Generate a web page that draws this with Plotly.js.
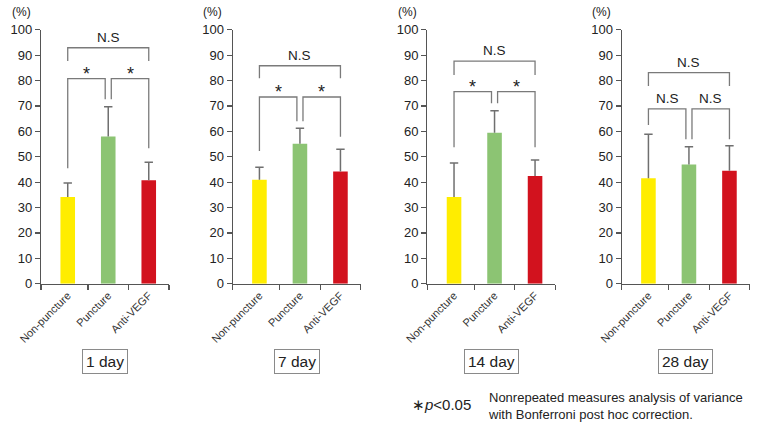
<!DOCTYPE html>
<html>
<head>
<meta charset="utf-8">
<script src="https://cdn.plot.ly/plotly-3.0.1.min.js"></script>
<style>html,body{margin:0;padding:0;background:#fff;}#chart{width:758px;height:429px;}</style>
</head>
<body>
<div id="chart"></div>
<script>
// ---- data ----
const days = ['1 day', '7 day', '14 day', '28 day'];
const categories = ['Non-puncture', 'Puncture', 'Anti-VEGF'];
const barColors = ['#FFED00', '#8CC473', '#D2121E'];

const mean1 = [34.1, 58.0, 40.7];
const sd1 = [5.5, 11.7, 7.1];
const mean7 = [40.9, 55.1, 44.2];
const sd7 = [4.9, 6.1, 8.7];
const mean14 = [34.1, 59.4, 42.4];
const sd14 = [13.4, 8.7, 6.3];
const mean28 = [41.5, 46.9, 44.5];
const sd28 = [17.3, 7.0, 9.8];

// significance brackets (heights in %)
const topLevel = [92.9, 85.8, 87.6, 83.1];
const topLegs = [87.7, 80.9, 82.2, 77.8];
const topLabel = ['N.S', 'N.S', 'N.S', 'N.S'];
const pairLevel = [80.7, 73.5, 75.6, 68.8];
const pairLegs1 = [45.5, 72.6, 72.6, 53.3];
const pairLegs7 = [52.2, 64.0, 64.0, 57.9];
const pairLegs14 = [53.7, 71.0, 71.0, 53.7];
const pairLegs28 = [62.5, 56.9, 56.9, 56.9];
const pairLabels1 = ['*', '*'];
const pairLabels7 = ['*', '*'];
const pairLabels14 = ['*', '*'];
const pairLabels28 = ['N.S', 'N.S'];

const yTicks = [0, 10, 20, 30, 40, 50, 60, 70, 80, 90, 100];

// ---- layout helpers ----
const means = [mean1, mean7, mean14, mean28];
const sds = [sd1, sd7, sd14, sd28];
const pairLegs = [pairLegs1, pairLegs7, pairLegs14, pairLegs28];
const pairLabels = [pairLabels1, pairLabels7, pairLabels14, pairLabels28];

const W = 758, H = 429;
const panelLeft = [41, 232.7, 427.3, 621.7];
const panelWidth = 128;
const yBottom = 283.7, yTop = 29.7;
const xRange = [-0.66, 2.5];
const axisColor = '#555';
const bracketColor = '#7a7a7a';
const errColor = '#6f6f6f';
const FONT = 'Liberation Sans, Arial, Helvetica, sans-serif';
const gap = 0.075;

const traces = [];
const shapes = [];
const annotations = [];
const layout = {
  width: W, height: H,
  margin: {l: 0, r: 0, t: 0, b: 0},
  paper_bgcolor: '#fff', plot_bgcolor: '#fff',
  showlegend: false,
  font: {family: FONT, color: '#222', size: 13},
  shapes: shapes, annotations: annotations
};

for (let i = 0; i < 4; i++) {
  const sfx = i === 0 ? '' : String(i + 1);
  const xa = 'x' + sfx, ya = 'y' + sfx;
  traces.push({
    type: 'bar', x: [0, 1, 2], y: means[i], xaxis: xa, yaxis: ya,
    width: 0.36,
    marker: {color: barColors, line: {width: 0}},
    error_y: {type: 'data', symmetric: false, array: sds[i], arrayminus: [0, 0, 0],
              color: errColor, thickness: 1.5, width: 0},
    hoverinfo: 'none'
  });
  // caps at the top of the (upper-only) error bars
  traces.push({
    type: 'scatter', mode: 'markers', xaxis: xa, yaxis: ya,
    x: [0, 1, 2], y: means[i].map((m, k) => m + sds[i][k]),
    marker: {symbol: 'line-ew', size: 6, line: {color: errColor, width: 1.5}},
    hoverinfo: 'none'
  });
  layout['xaxis' + sfx] = {
    domain: [panelLeft[i] / W, (panelLeft[i] + panelWidth) / W],
    range: xRange, anchor: ya, fixedrange: true,
    showline: true, linecolor: axisColor, linewidth: 1.2,
    showgrid: false, zeroline: false,
    tickmode: 'array', tickvals: [0, 1, 2], ticktext: categories,
    ticks: '', tickangle: -45,
    tickfont: {size: 11, color: '#333', family: FONT},
    minor: {tickmode: 'array', tickvals: [xRange[0], 0.5, 1.5, 2.5], ticks: 'outside',
            ticklen: 5, tickcolor: axisColor, tickwidth: 1.2, showgrid: false}
  };
  layout['yaxis' + sfx] = {
    domain: [(H - yBottom) / H, (H - yTop) / H],
    range: [0, 100], anchor: xa, fixedrange: true,
    showline: true, linecolor: axisColor, linewidth: 1.2,
    showgrid: false, zeroline: false,
    tickmode: 'array', tickvals: yTicks,
    ticks: 'outside', ticklen: 5, tickcolor: axisColor, tickwidth: 1.2,
    tickfont: {size: 13, color: '#222', family: FONT}
  };

  // brackets
  const line = {color: bracketColor, width: 1.3};
  shapes.push({type: 'path', xref: xa, yref: ya, line: line,
    path: `M 0,${topLegs[i]} L 0,${topLevel[i]} L 2,${topLevel[i]} L 2,${topLegs[i]}`});
  const pl = pairLegs[i];
  shapes.push({type: 'path', xref: xa, yref: ya, line: line,
    path: `M 0,${pl[0]} L 0,${pairLevel[i]} L ${1 - gap},${pairLevel[i]} L ${1 - gap},${pl[1]}`});
  shapes.push({type: 'path', xref: xa, yref: ya, line: line,
    path: `M ${1 + gap},${pl[2]} L ${1 + gap},${pairLevel[i]} L 2,${pairLevel[i]} L 2,${pl[3]}`});

  annotations.push({xref: xa, yref: ya, x: 1, y: topLevel[i], text: topLabel[i],
    showarrow: false, yanchor: 'bottom', yshift: 1,
    font: {size: 13.5, color: '#222', family: FONT}});
  const mids = [(1 - gap) / 2, (1 + gap + 2) / 2];
  for (let k = 0; k < 2; k++) {
    const isStar = pairLabels[i][k] === '*';
    annotations.push({xref: xa, yref: ya, x: mids[k], y: pairLevel[i], text: pairLabels[i][k],
      showarrow: false, yanchor: isStar ? 'middle' : 'bottom', yshift: isStar ? 5 : 1,
      font: {size: isStar ? 18 : 13.5, color: '#222', family: FONT}});
  }

  // (%) label
  annotations.push({xref: xa + ' domain', yref: 'paper', x: 0, xshift: -20, y: (H - 12) / H,
    text: '(%)', showarrow: false, xanchor: 'center', yanchor: 'middle',
    font: {size: 12, color: '#222', family: FONT}});

  // day box
  annotations.push({xref: xa, yref: 'paper', x: 0.92, y: (H - 361.5) / H,
    text: days[i], showarrow: false, xanchor: 'center', yanchor: 'middle',
    bordercolor: '#8a8a8a', borderwidth: 1, borderpad: 3, bgcolor: '#fff',
    font: {size: 15.5, color: '#222', family: FONT}});
}

// footnote
annotations.push({xref: 'paper', yref: 'paper', x: 410 / W, y: (H - 404) / H,
  text: '\u2217<i>p</i><0.05', showarrow: false, xanchor: 'left', yanchor: 'middle',
  font: {size: 15, color: '#222', family: FONT}});
annotations.push({xref: 'paper', yref: 'paper', x: 486 / W, y: (H - 406) / H,
  text: 'Nonrepeated measures analysis of variance<br>with Bonferroni post hoc correction.',
  showarrow: false, xanchor: 'left', yanchor: 'middle', align: 'left',
  font: {size: 13, color: '#222', family: FONT}});

Plotly.newPlot('chart', traces, layout, {displayModeBar: false, staticPlot: true});
</script>
</body>
</html>
